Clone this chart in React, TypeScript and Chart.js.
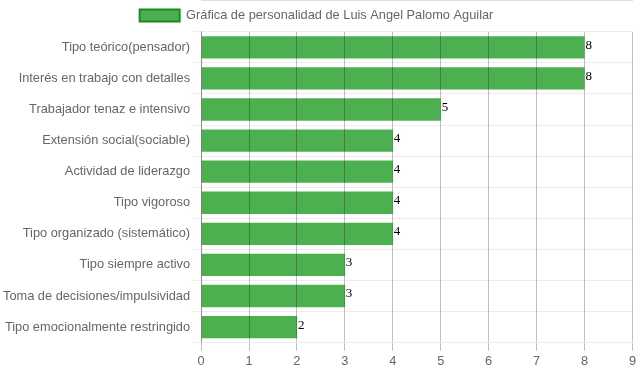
import React, { useEffect, useRef } from "react";
import { Chart, registerables } from "chart.js";

Chart.register(...registerables);

const categories = [
  "Tipo teórico(pensador)",
  "Interés en trabajo con detalles",
  "Trabajador tenaz e intensivo",
  "Extensión social(sociable)",
  "Actividad de liderazgo",
  "Tipo vigoroso",
  "Tipo organizado (sistemático)",
  "Tipo siempre activo",
  "Toma de decisiones/impulsividad",
  "Tipo emocionalmente restringido",
];
const values = [8, 8, 5, 4, 4, 4, 4, 3, 3, 2];
const seriesLabel = "Gráfica de personalidad de Luis Angel Palomo Aguilar";

const valueLabels = {
  id: "valueLabels",
  afterDatasetsDraw(chart: any) {
    const ctx = chart.ctx;
    const meta = chart.getDatasetMeta(0);
    ctx.save();
    ctx.font = "13px 'Liberation Serif', 'DejaVu Serif', serif";
    ctx.fillStyle = "#000";
    ctx.textAlign = "left";
    ctx.textBaseline = "middle";
    meta.data.forEach((el: any, i: number) => {
      ctx.fillText(String(values[i]), el.x + 1, el.y - 2);
    });
    ctx.restore();
  },
};

export default function App() {
  const ref = useRef<HTMLCanvasElement>(null);
  useEffect(() => {
    if (!ref.current) return;
    Chart.defaults.font.family = "'Liberation Sans', Arial, sans-serif";
    Chart.defaults.font.size = 12.8;
    Chart.defaults.color = "#666";
    const chart = new Chart(ref.current, {
      type: "bar",
      data: {
        labels: categories,
        datasets: [
          {
            label: seriesLabel,
            data: values,
            backgroundColor: "#4CAF50",
            borderColor: "#1B8A1F",
            borderWidth: 0,
          },
        ],
      },
      options: {
        indexAxis: "y",
        animation: false,
        responsive: false,
        layout: { padding: { left: 0, right: 6, top: 0, bottom: 0 } },
        plugins: {
          legend: {
            display: true,
            labels: {
              boxWidth: 40,
              boxHeight: 12,
              padding: 9,
              generateLabels: () => [
                {
                  text: seriesLabel,
                  fillStyle: "#4CAF50",
                  strokeStyle: "#1B8A1F",
                  lineWidth: 2,
                  datasetIndex: 0,
                  fontColor: "#666",
                } as any,
              ],
            },
          },
          tooltip: { enabled: false },
        },
        scales: {
          x: {
            min: 0,
            max: 9,
            ticks: { stepSize: 1, color: "#666" },
            grid: { color: "rgba(0,0,0,0.25)", z: 1 },
            border: { color: "rgba(0,0,0,0.25)" },
          },
          y: {
            ticks: { color: "#666" },
            grid: { color: "rgba(0,0,0,0.07)", offset: true },
            border: { color: "rgba(0,0,0,0.25)" },
          },
        },
      },
      plugins: [valueLabels],
    });
    return () => chart.destroy();
  }, []);
  return (
    <div style={{ position: "absolute", left: 0, top: 0, width: 639, height: 372 }}>
      <canvas ref={ref} width={639} height={372} />
    </div>
  );
}
